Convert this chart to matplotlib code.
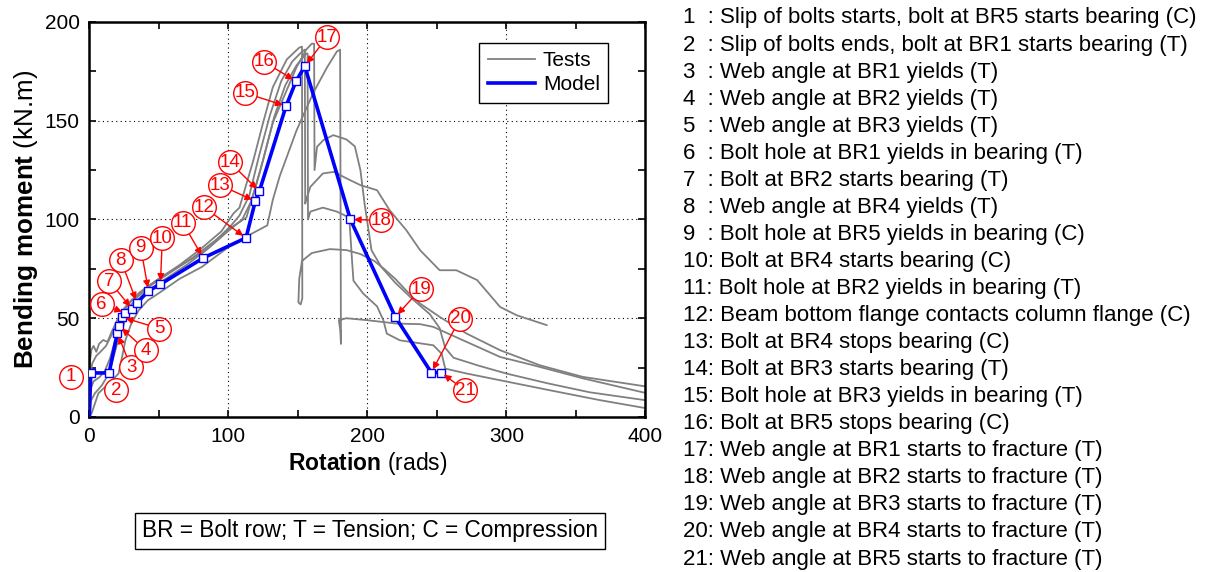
import numpy as np
import matplotlib
matplotlib.use("Agg")
import matplotlib.pyplot as plt

plt.rcParams['font.family'] = ['Liberation Sans', 'DejaVu Sans']
plt.rcParams['mathtext.fontset'] = 'custom'
plt.rcParams['mathtext.rm'] = 'Liberation Sans'
plt.rcParams['mathtext.bf'] = 'Liberation Sans:bold'

# --- model: 21 characteristic points (rotation, bending moment) ---
model_rot = [0, 1, 14.2, 20.1, 21.5, 23.7, 25.9, 30.9, 34.3, 42.5, 51.1, 81.9,
             112.7, 119.4, 122.3, 141.5, 148.7, 155.0, 187.8, 220.1, 246.0, 253.0]
model_mom = [0, 22.3, 22.3, 42.4, 46.0, 50.5, 52.7, 54.6, 57.8, 63.8, 67.2, 80.5,
             90.7, 109.3, 114.3, 157.4, 170.0, 177.6, 100.0, 50.7, 22.5, 22.5]

# --- test curves ---
t1_rot = [0, 0.4, 1.5, 3, 5, 7, 10, 13, 16, 20, 25, 30, 40, 50, 65, 80, 95, 103.6, 108,
          118, 125, 132, 142, 151, 153, 153.2, 152, 150.4, 151, 153, 160, 173, 185, 195,
          205, 212, 220, 228, 238, 252, 271.5, 295.5, 324, 355, 400]
t1_mom = [0, 28, 34, 36, 33, 37, 39, 38, 43, 49, 55, 59, 65, 70, 77, 85, 94, 103, 106,
          130, 149, 167, 181, 187, 187.5, 60, 57, 58, 70, 79, 83, 85, 84.5, 82.5,
          79, 75, 70, 64, 57.4, 50.7, 42.2, 33.8, 26.2, 20.3, 15.5]

t2_rot = [0, 0.8, 3, 7, 11, 15, 19, 23, 28, 35, 45, 60, 75, 90, 100, 113, 123, 132, 142,
          149, 156, 160, 161.7, 162, 163.8, 168.4, 175.5, 185, 191, 195, 198, 203,
          210, 220, 232, 245, 252, 256, 262, 280, 300, 330, 360, 400]
t2_mom = [0, 14, 18, 20, 23, 30, 40, 48, 55, 61, 67, 74, 81, 89, 95, 101, 125, 149, 165.5,
          177, 186, 189, 189, 125, 136.8, 140.2, 142.7, 140.5, 137, 125, 108, 84.4,
          76, 68, 60, 52, 45, 35, 30, 26, 22, 17, 12.5, 8.5]

t3_rot = [0, 1.7, 6.5, 11, 17, 21, 24, 26, 30, 35.5, 42, 49.6, 65, 81, 100, 112, 121.6,
          128, 132, 137, 149, 161, 171, 178, 180.4, 181, 180.5, 179.5, 185, 200, 221,
          238, 247.5, 271.5, 295.5, 319.4, 355.4, 400]
t3_mom = [0, 2, 12, 15, 19, 22, 32, 39, 47, 54, 59, 62.5, 70, 76, 86, 91, 94.6,
          97, 110, 122, 145, 164, 177, 185, 186, 37, 44, 49, 50, 49, 47.3,
          47, 45.6, 38, 30.4, 26.2, 19.5, 12.2]

t4_rot = [0, 0.6, 2, 5, 8, 12, 17, 22, 28, 36, 48, 62, 78, 92, 102, 108, 115, 122, 130,
          138, 146, 153, 155, 155.3, 156, 159, 168, 176, 185, 195, 207, 216, 228,
          238, 252, 264, 279, 295.5, 307.5, 329]
t4_mom = [0, 20, 27, 31, 33, 36, 43, 50, 57, 63, 69, 75, 82, 90, 97, 102, 112, 132, 153,
          170, 180, 185, 186, 108, 110, 116.5, 123.3, 124.1, 120.8, 117.4, 114.8, 104.7, 94.6,
          84.4, 74.3, 74.3, 69.3, 55.7, 51.5, 46.5]

t5_rot = [0, 1, 4, 9, 14, 18, 22, 27, 33, 42, 55, 70, 85, 98, 110, 117, 125, 133, 141,
          149, 156, 157, 157.3, 159, 168, 178, 187, 189, 190, 197, 207, 211.5, 214,
          223.5, 247.5, 253.5, 256, 271.5, 295.5, 331.5, 367.5, 400]
t5_mom = [0, 8, 12, 16, 22, 32, 42, 51, 58, 64, 70, 77, 85, 93, 100, 110, 130, 152, 168,
          178, 184, 184, 100, 104, 106, 104, 101, 79, 69, 62.5, 56, 49, 42.2,
          38.8, 36.3, 32, 24.5, 22, 18.6, 13.5, 8.5, 4.5]

tests = [(t1_rot, t1_mom), (t2_rot, t2_mom), (t3_rot, t3_mom),
         (t4_rot, t4_mom), (t5_rot, t5_mom)]

# circled labels: (rotation, moment) of each number's circle
label_rot = [-13.4, 19.0, 30.0, 40.6, 50.4, 8.9, 14.4, 22.6, 37.0, 52.5, 67.2,
             82.7, 94.0, 101.2, 112.0, 125.7, 170.8, 209.6, 238.4, 266.7, 270.3]
label_mom = [20.3, 13.5, 25.3, 33.8, 44.8, 57.1, 68.7, 79.4, 85.8, 90.4, 98.3,
             106.1, 117.4, 128.9, 164.1, 179.8, 192.2, 99.6, 64.8, 49.8, 13.5]

stage_notes = [
    "1  : Slip of bolts starts, bolt at BR5 starts bearing (C)",
    "2  : Slip of bolts ends, bolt at BR1 starts bearing (T)",
    "3  : Web angle at BR1 yields (T)",
    "4  : Web angle at BR2 yields (T)",
    "5  : Web angle at BR3 yields (T)",
    "6  : Bolt hole at BR1 yields in bearing (T)",
    "7  : Bolt at BR2 starts bearing (T)",
    "8  : Web angle at BR4 yields (T)",
    "9  : Bolt hole at BR5 yields in bearing (C)",
    "10: Bolt at BR4 starts bearing (C)",
    "11: Bolt hole at BR2 yields in bearing (T)",
    "12: Beam bottom flange contacts column flange (C)",
    "13: Bolt at BR4 stops bearing (C)",
    "14: Bolt at BR3 starts bearing (T)",
    "15: Bolt hole at BR3 yields in bearing (T)",
    "16: Bolt at BR5 stops bearing (C)",
    "17: Web angle at BR1 starts to fracture (T)",
    "18: Web angle at BR2 starts to fracture (T)",
    "19: Web angle at BR3 starts to fracture (T)",
    "20: Web angle at BR4 starts to fracture (T)",
    "21: Web angle at BR5 starts to fracture (T)",
]

fig = plt.figure(figsize=(12.14, 5.72), dpi=100)
ax = fig.add_axes([0.0736, 0.271, 0.458, 0.6906])

for i, (r, m) in enumerate(tests):
    ax.plot(r, m, color='#808080', lw=1.3, label='Tests' if i == 0 else None, zorder=2)

ax.plot(model_rot, model_mom, color='#0000ff', lw=2.6, label='Model', zorder=4)
ax.plot(model_rot[1:], model_mom[1:], ls='none', marker='s', ms=6, mfc='white',
        mec='#0000ff', mew=1.0, zorder=5)

# numbered circles with arrows to the model points
for k in range(21):
    lx, ly = label_rot[k], label_mom[k]
    px, py = model_rot[k + 1], model_mom[k + 1]
    ax.plot(lx, ly, marker='o', ms=17, mfc='white', mec='red', mew=1.0,
            ls='none', zorder=6, clip_on=False)
    ax.text(lx, ly, str(k + 1), color='red', fontsize=13.5, ha='center',
            va='center', zorder=7, clip_on=False)
    if k >= 2:
        ax.annotate('', xy=(px, py), xytext=(lx, ly),
                    arrowprops=dict(arrowstyle='-|>', color='red', lw=1.0,
                                    mutation_scale=10, shrinkA=8.5, shrinkB=2.5),
                    zorder=5)

ax.set_xlim(0, 400)
ax.set_ylim(0, 200)
ax.set_xticks([0, 100, 200, 300, 400])
ax.set_xticks([50, 150, 250, 350], minor=True)
ax.set_yticks([0, 50, 100, 150, 200])
ax.set_yticks([25, 75, 125, 175], minor=True)
ax.tick_params(which='both', direction='in', top=True, right=True, length=5, width=1.2,
               labelsize=15, pad=7)
ax.grid(True, which='major', color='black', ls=(0, (1, 3)), lw=0.8)
for s in ax.spines.values():
    s.set_linewidth(1.8)

ax.set_xlabel(r"$\bf{Rotation}$ (rads)", fontsize=16.5, labelpad=3)
ax.set_ylabel(r"$\bf{Bending\ moment}$ (kN.m)", fontsize=18.7, labelpad=3)

leg = ax.legend(loc='upper right', bbox_to_anchor=(0.933, 0.947), fontsize=15,
                fancybox=False, edgecolor='black', framealpha=1, handlelength=2.3,
                handletextpad=0.35, borderpad=0.4, labelspacing=0.25, borderaxespad=0)
leg.get_frame().set_linewidth(1.0)

for i, note in enumerate(stage_notes):
    fig.text(683 / 1214, 1 - (18 + 27.05 * i) / 572, note, fontsize=16,
             ha='left', va='center')

fig.text(370 / 1214, 1 - 531 / 572, "BR = Bolt row; T = Tension; C = Compression",
         fontsize=16.3, ha='center', va='center',
         bbox=dict(boxstyle='square,pad=0.3', fc='white', ec='black', lw=1.0))

fig.savefig("out.png", dpi=100)
